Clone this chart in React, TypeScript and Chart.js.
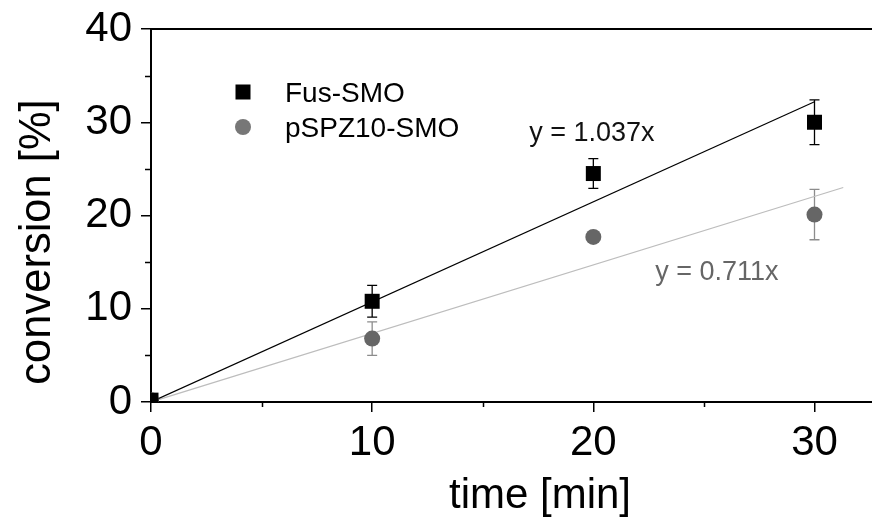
import React, { useEffect, useRef } from 'react';
import { Chart, registerables } from 'chart.js';

Chart.register(...registerables);

// ---- data ----
const times = [0, 10, 20, 30];
const fusValues = [0.2, 10.8, 24.5, 30.0];
const fusErrors = [0, 1.7, 1.6, 2.4];
const pspzValues = [0.2, 6.8, 17.7, 20.1];
const pspzErrors = [0, 1.8, 0.4, 2.7];
const fusFitX = [0, 30];
const fusFitY = [0, 32.2];
const pspzFitX = [0, 31.3];
const pspzFitY = [0, 23.0];
const seriesNames = ['Fus-SMO', 'pSPZ10-SMO'];
const fitLabels = ['y = 1.037x', 'y = 0.711x'];
const fitLabelX = [17.1, 22.8];
const fitLabelY = [28.8, 13.9];
const xMinorTicks = [5, 15, 25];
const yMinorTicks = [5, 15, 25, 35];
const xAxisTitle = 'time [min]';
const yAxisTitle = 'conversion [%]';

const FONT = '"Liberation Sans", Arial, Helvetica, sans-serif';
const FUS_COLOR = '#000000';
const PSPZ_COLOR = '#666666';
const PSPZ_ERR = '#8c8c8c';

const decoPlugin = {
  id: 'deco',
  beforeDatasetsDraw(chart: any) {
    const ctx = chart.ctx;
    const xs = chart.scales.x;
    const ys = chart.scales.y;
    const sets = [
      { v: fusValues, e: fusErrors, c: FUS_COLOR },
      { v: pspzValues, e: pspzErrors, c: PSPZ_ERR },
    ];
    ctx.save();
    ctx.beginPath();
    ctx.rect(chart.chartArea.left, chart.chartArea.top, chart.chartArea.right - chart.chartArea.left, chart.chartArea.bottom - chart.chartArea.top);
    ctx.clip();
    ctx.lineWidth = 1.3;
    sets.forEach((s) => {
      ctx.strokeStyle = s.c;
      times.forEach((t, i) => {
        if (!s.e[i]) return;
        const px = xs.getPixelForValue(t);
        const top = ys.getPixelForValue(s.v[i] + s.e[i]);
        const bot = ys.getPixelForValue(s.v[i] - s.e[i]);
        ctx.beginPath();
        ctx.moveTo(px, top);
        ctx.lineTo(px, bot);
        ctx.moveTo(px - 5, top);
        ctx.lineTo(px + 5, top);
        ctx.moveTo(px - 5, bot);
        ctx.lineTo(px + 5, bot);
        ctx.stroke();
      });
    });
    ctx.restore();
  },
  afterDraw(chart: any) {
    const ctx = chart.ctx;
    const xs = chart.scales.x;
    const ys = chart.scales.y;
    const area = chart.chartArea;
    ctx.save();
    // top frame line
    ctx.strokeStyle = '#000';
    ctx.lineWidth = 2;
    ctx.beginPath();
    ctx.moveTo(area.left, area.top);
    ctx.lineTo(area.right, area.top);
    ctx.stroke();
    // minor ticks
    ctx.lineWidth = 1.5;
    ctx.beginPath();
    yMinorTicks.forEach((v) => {
      const py = Math.round(ys.getPixelForValue(v)) + 0.5;
      ctx.moveTo(area.left - 6, py);
      ctx.lineTo(area.left, py);
    });
    xMinorTicks.forEach((v) => {
      const px = Math.round(xs.getPixelForValue(v)) + 0.5;
      ctx.moveTo(px, area.bottom);
      ctx.lineTo(px, area.bottom + 5);
    });
    ctx.stroke();

    // axis titles
    ctx.fillStyle = '#000';
    ctx.font = `42px ${FONT}`;
    ctx.textAlign = 'center';
    ctx.textBaseline = 'alphabetic';
    ctx.fillText(xAxisTitle, 540, 508);
    ctx.save();
    ctx.font = `43.5px ${FONT}`;
    ctx.translate(50, 242);
    ctx.rotate(-Math.PI / 2);
    ctx.fillText(yAxisTitle, 0, 0);
    ctx.restore();

    // legend
    ctx.textAlign = 'left';
    ctx.font = `28px ${FONT}`;
    ctx.fillStyle = FUS_COLOR;
    ctx.fillRect(243 - 7.5, 92 - 7.5, 15, 15);
    ctx.fillStyle = '#000';
    ctx.fillText(seriesNames[0], 285, 102);
    ctx.fillStyle = '#777777';
    ctx.beginPath();
    ctx.arc(243, 127, 8, 0, Math.PI * 2);
    ctx.fill();
    ctx.fillStyle = '#000';
    ctx.fillText(seriesNames[1], 285, 137);

    // fit labels
    ctx.font = `27px ${FONT}`;
    ctx.textBaseline = 'middle';
    ctx.fillStyle = '#111111';
    ctx.fillText(fitLabels[0], xs.getPixelForValue(fitLabelX[0]), ys.getPixelForValue(fitLabelY[0]));
    ctx.fillStyle = '#666666';
    ctx.fillText(fitLabels[1], xs.getPixelForValue(fitLabelX[1]), ys.getPixelForValue(fitLabelY[1]));
    ctx.restore();
  },
};

export default function App() {
  const ref = useRef<HTMLCanvasElement | null>(null);
  useEffect(() => {
    document.body.style.margin = '0';
    document.body.style.overflow = 'hidden';
    const canvas = ref.current;
    if (!canvas) return;
    const chart = new Chart(canvas, {
      type: 'scatter',
      data: {
        datasets: [
          {
            label: seriesNames[0],
            data: times.map((t, i) => ({ x: t, y: fusValues[i] })),
            pointStyle: 'rect',
            pointRadius: 10.6,
            backgroundColor: FUS_COLOR,
            borderColor: FUS_COLOR,
            borderWidth: 0,
            showLine: false,
            clip: 0,
            order: 0,
          },
          {
            label: seriesNames[1],
            data: times.map((t, i) => ({ x: t, y: pspzValues[i] })),
            pointStyle: 'circle',
            pointRadius: 8,
            backgroundColor: PSPZ_COLOR,
            borderColor: PSPZ_COLOR,
            borderWidth: 0,
            showLine: false,
            clip: 0,
            order: 1,
          },
          {
            label: 'fit1',
            data: fusFitX.map((x, i) => ({ x, y: fusFitY[i] })),
            showLine: true,
            pointRadius: 0,
            borderColor: '#000000',
            borderWidth: 1.2,
            order: 3,
          },
          {
            label: 'fit2',
            data: pspzFitX.map((x, i) => ({ x, y: pspzFitY[i] })),
            showLine: true,
            pointRadius: 0,
            borderColor: '#bdbdbd',
            borderWidth: 1.2,
            order: 4,
          },
        ],
      },
      options: {
        animation: false,
        responsive: false,
        events: [],
        layout: { autoPadding: false, padding: { top: 29, left: 0, right: 0, bottom: 0 } },
        plugins: {
          legend: { display: false },
          tooltip: { enabled: false },
          title: { display: false },
        },
        scales: {
          x: {
            type: 'linear',
            min: 0,
            max: 32.6,
            border: { display: true, color: '#000', width: 2 },
            grid: { drawOnChartArea: false, drawTicks: true, tickLength: 10, color: '#000', lineWidth: 1.5 },
            ticks: {
              stepSize: 10,
              includeBounds: false,
              color: '#000',
              padding: 6,
              font: { family: FONT, size: 42 },
            },
            afterFit: (s: any) => {
              s.height = 120;
              s.paddingLeft = 0;
              s.paddingRight = 0;
            },
          },
          y: {
            type: 'linear',
            min: 0,
            max: 40,
            border: { display: true, color: '#000', width: 2 },
            grid: { drawOnChartArea: false, drawTicks: true, tickLength: 10, color: '#000', lineWidth: 1.5 },
            ticks: {
              stepSize: 10,
              color: '#000',
              padding: 9,
              font: { family: FONT, size: 42 },
            },
            afterFit: (s: any) => {
              s.width = 151;
              s.paddingTop = 0;
              s.paddingBottom = 0;
            },
          },
        },
      },
      plugins: [decoPlugin],
    } as any);
    return () => chart.destroy();
  }, []);
  return <canvas ref={ref} width={872} height={522} style={{ display: 'block' }} />;
}
